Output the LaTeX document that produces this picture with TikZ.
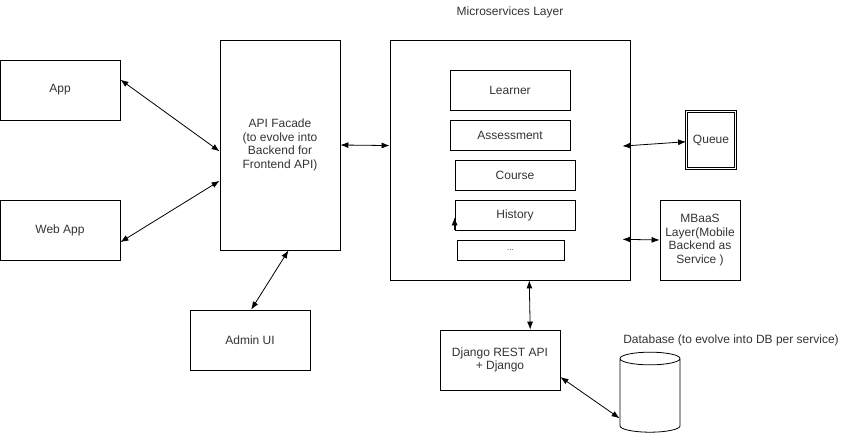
\documentclass[tikz,border=0pt]{standalone}
\usepackage{fontspec}
\setmainfont{Liberation Sans}
\usepackage{tikz}
\usetikzlibrary{arrows.meta, calc, shapes.geometric}
\tikzset{>={Latex[length=8pt, width=6pt]}}

\begin{document}
\begin{tikzpicture}[x=1pt, y=-1pt, line width=.8pt,
    font=\fontsize{12}{13.5}\selectfont,
    box/.style={draw, rectangle, align=center, inner sep=0pt, text=black!80}]
    \useasboundingbox (0, 0) rectangle (851, 441);
    \node[box, minimum width=120, minimum height=60](app)at(60, 90){App};
    \node[box, minimum width=120, minimum height=60](webapp)at(60, 230){Web App};
    \node[box, minimum width=120, minimum height=210](api)at(280, 145){API Facade\\(to evolve into\\Backend for\\Frontend API)};
    \node[box, minimum width=120, minimum height=60](admin)at(250, 340){Admin UI};
    \node[box, minimum width=240, minimum height=240](micro)at(510, 160){};
    \node[text=black!80](mtitle)at(510, 12){Microservices Layer};
    \node[box, minimum width=120, minimum height=40](learner)at(510, 90){Learner};
    \node[box, minimum width=120, minimum height=30](assess)at(510, 135){Assessment};
    \node[box, minimum width=120, minimum height=30](course)at(515, 175){Course};
    \node[box, minimum width=120, minimum height=30](history)at(515, 215){History};
    \node[box, minimum width=107, minimum height=20](more)at(510.5, 250){\footnotesize ...};
    \node[box, double, double distance=1.6pt, minimum width=49, minimum height=57](queue)at(711, 140){Queue};
    \node[box, minimum width=80, minimum height=80](mbaas)at(700, 240){MBaaS\\Layer(Mobile\\Backend as\\Service )};
    \node[box, minimum width=120, minimum height=60](django)at(500, 360){Django REST API\\+ Django};
    \node[draw, cylinder, shape border rotate=90, aspect=1.9, minimum width=60, minimum height=80](db)at(650, 397){};
    \node[text=black!80](dblabel)at(731, 340){Database (to evolve into DB per service)};
    \draw[<->]($(app.north east)!.33!(app.south east)$)--($(api.north west)!.53!(api.south west)$);
    \draw[<->]($(webapp.north east)!.7!(webapp.south east)$)--($(api.north west)!.67!(api.south west)$);
    \draw[<->]($(api.south west)!.57!(api.south east)$)--($(admin.north west)!.51!(admin.north east)$);
    \draw[<->](api.east)--($(micro.north west)!.44!(micro.south west)$);
    \draw[<->, shorten <=-8]($(micro.north east)!.44!(micro.south east)$)--($(queue.north west)!.53!(queue.south west)$);
    \draw[<->, shorten <=-8]($(micro.north east)!.83!(micro.south east)$)--(mbaas.west);
    \draw[<->]($(micro.south west)!.58!(micro.south east)$)--($(django.north west)!.75!(django.north east)$);
    \draw[<->]($(django.north east)!.78!(django.south east)$)--(db.215);
    \draw[->](history.south west)--++(0, -13);
\end{tikzpicture}
\end{document}
